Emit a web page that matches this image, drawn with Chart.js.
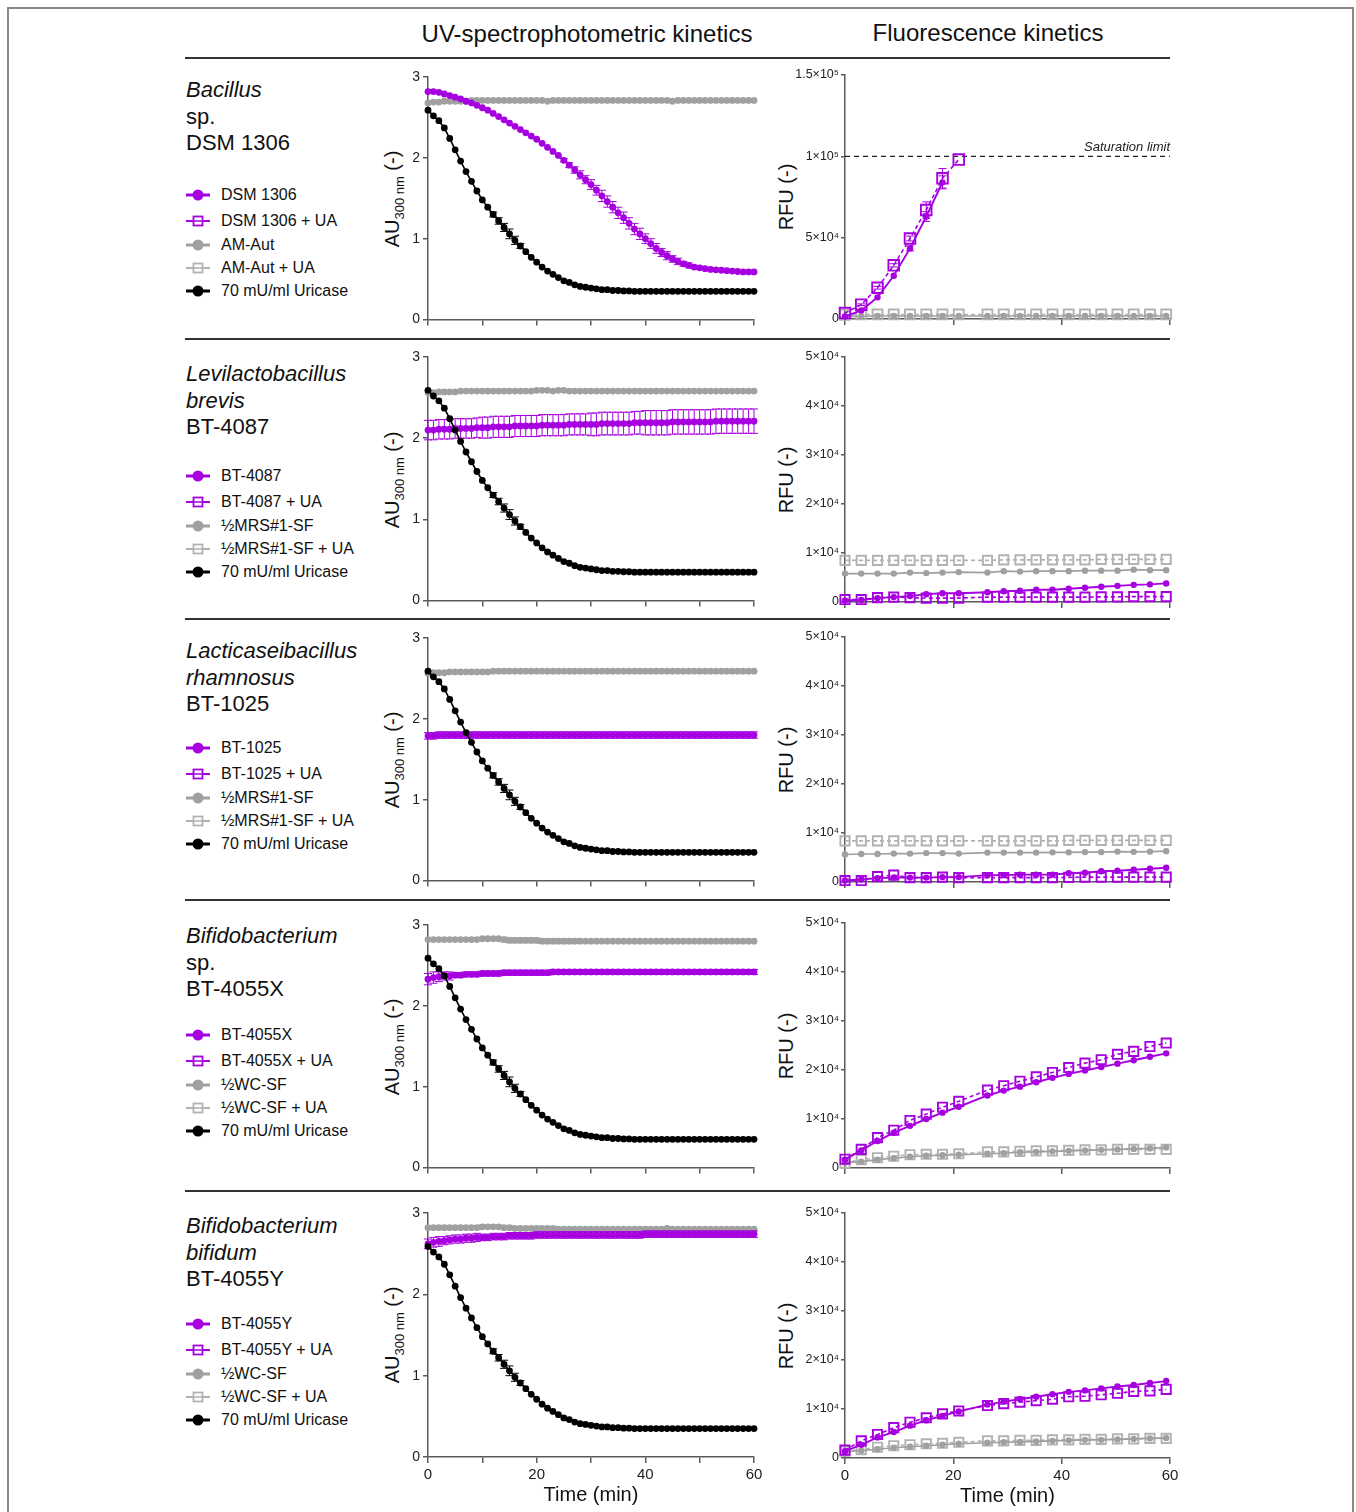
<!DOCTYPE html>
<html lang="en">
  <head>
    <meta charset="UTF-8" />
    <title>UV and fluorescence kinetics</title>
    <script src="https://cdn.jsdelivr.net/npm/chart.js@4.4.1/dist/chart.umd.min.js"></script>
    <style>
      body { margin: 0; background: #fff; font-family: "Liberation Sans", Arial, sans-serif; color: #111; }
      #fig { position: relative; width: 1356px; height: 1512px; overflow: hidden; }
      .abs { position: absolute; white-space: nowrap; }
      .frame { left: 7px; top: 7px; width: 1347px; height: 1530px; border: 2px solid #8a8a8a; box-sizing: border-box; }
      .rule { left: 185px; width: 985px; height: 2px; background: #333; }
      .head { font-size: 24px; line-height: 30px; text-align: center; width: 400px; }
      .species { left: 186px; font-size: 22px; line-height: 26px; }
      .leg { left: 185px; height: 20px; display: flex; align-items: center; font-size: 16px; }
      .leg svg { margin-right: 10px; }
      .ytitle { width: 200px; height: 26px; line-height: 26px; font-size: 20px; text-align: center; transform: rotate(-90deg); }
      .ytitle .sub { font-size: 13px; position: relative; top: 5px; }
    </style>
  </head>
  <body>
    <div id="fig">
      <div class="abs frame"></div>
      <div class="abs head" style="left: 387px; top: 19px">UV-spectrophotometric kinetics</div>
      <div class="abs head" style="left: 788px; top: 18px">Fluorescence kinetics</div>
    </div>

    <script>
      // ---- colours
      const MAG = "#a600e0";
      const GRAY = "#a0a0a0";
      const GRAY_LT = "#b2b2b2";
      const BLACK = "#000000";
      const AXIS = "#5a5a5a";

      // ---- time axes (min)
      const uvTime = [0,1,2,3,4,5,6,7,8,9,10,11,12,13,14,15,16,17,18,19,20,21,22,23,24,25,26,27,28,29,30,
        31,32,33,34,35,36,37,38,39,40,41,42,43,44,45,46,47,48,49,50,51,52,53,54,55,56,57,58,59,60];
      const flTime = [0,3,6,9,12,15,18,21,26.3,29.3,32.3,35.3,38.3,41.3,44.3,47.3,50.3,53.3,56.3,59.3];

      // ---- tick labels
      const uvTickLabels = ["0", "1", "2", "3"];
      const flTickLabelsTop = ["0", "5×10⁴", "1×10⁵", "1.5×10⁵"];
      const flTickLabels = ["0", "1×10⁴", "2×10⁴", "3×10⁴", "4×10⁴", "5×10⁴"];
      const timeTickLabels = ["0", "20", "40", "60"];

      // ---- row text
      const speciesNames = [
        [["Bacillus", true], ["sp.", false], ["DSM 1306", false]],
        [["Levilactobacillus", true], ["brevis", true], ["BT-4087", false]],
        [["Lacticaseibacillus", true], ["rhamnosus", true], ["BT-1025", false]],
        [["Bifidobacterium", true], ["sp.", false], ["BT-4055X", false]],
        [["Bifidobacterium", true], ["bifidum", true], ["BT-4055Y", false]]
      ];
      const legendLabels = [
        ["DSM 1306", "DSM 1306 + UA", "AM-Aut", "AM-Aut + UA", "70 mU/ml Uricase"],
        ["BT-4087", "BT-4087 + UA", "½MRS#1-SF", "½MRS#1-SF + UA", "70 mU/ml Uricase"],
        ["BT-1025", "BT-1025 + UA", "½MRS#1-SF", "½MRS#1-SF + UA", "70 mU/ml Uricase"],
        ["BT-4055X", "BT-4055X + UA", "½WC-SF", "½WC-SF + UA", "70 mU/ml Uricase"],
        ["BT-4055Y", "BT-4055Y + UA", "½WC-SF", "½WC-SF + UA", "70 mU/ml Uricase"]
      ];

      // ---- UV absorbance (AU 300 nm), one value per minute
      const uricaseAU = [2.59,2.52,2.46,2.37,2.24,2.10,1.96,1.83,1.71,1.59,
        1.48,1.39,1.30,1.22,1.14,1.06,0.98,0.91,0.84,0.77,
        0.71,0.65,0.60,0.56,0.52,0.48,0.46,0.43,0.41,0.40,
        0.39,0.38,0.37,0.37,0.36,0.36,0.355,0.355,0.35,0.35,
        0.35,0.35,0.35,0.35,0.35,0.35,0.35,0.35,0.35,0.35,
        0.35,0.35,0.35,0.35,0.35,0.35,0.35,0.35,0.35,0.35,0.35];
      const uricaseErr = [0,0,0,0,0,0,0,0,0,0,0,0,0.03,0.04,0.05,0.06,0.05,0.03,0,0,
        0,0,0,0,0,0,0,0,0,0,0,0,0,0,0,0,0,0,0,0,0,0,0,0,0,0,0,0,0,0,0,0,0,0,0,0,0,0,0,0,0];

      const m1AU = [2.82,2.82,2.81,2.79,2.77,2.75,2.73,2.70,2.68,2.65,
        2.62,2.59,2.55,2.51,2.47,2.43,2.39,2.35,2.31,2.27,
        2.23,2.18,2.13,2.08,2.03,1.97,1.91,1.85,1.79,1.73,
        1.67,1.60,1.53,1.46,1.39,1.32,1.26,1.19,1.12,1.06,
        1.00,0.94,0.88,0.83,0.79,0.75,0.72,0.69,0.67,0.65,
        0.64,0.63,0.62,0.615,0.61,0.605,0.60,0.595,0.59,0.59,0.59];
      const m1Err = [0,0,0,0,0,0,0,0,0,0,0,0,0,0,0,0,0,0,0,0,0,0,0,0,0,
        0.02,0.03,0.04,0.05,0.05,0.06,0.06,0.07,0.07,0.07,0.07,0.07,0.07,0.07,0.07,
        0.06,0.06,0.06,0.05,0.05,0.04,0.04,0.03,0.03,0.02,0.02,
        0,0,0,0,0,0,0,0,0,0];
      const g1AU = [2.68,2.69,2.69,2.70,2.70,2.70,2.70,2.70,2.71,2.71,
        2.71,2.71,2.71,2.71,2.71,2.71,2.71,2.71,2.71,2.71,
        2.71,2.71,2.70,2.71,2.71,2.71,2.71,2.71,2.71,2.71,
        2.71,2.71,2.71,2.71,2.71,2.71,2.71,2.71,2.71,2.71,
        2.71,2.71,2.71,2.71,2.71,2.70,2.71,2.71,2.71,2.71,
        2.71,2.71,2.71,2.71,2.71,2.71,2.71,2.71,2.71,2.71,2.71];

      const m2AU = [2.10,2.10,2.11,2.11,2.11,2.12,2.12,2.12,2.12,2.13,
        2.13,2.13,2.14,2.14,2.14,2.14,2.15,2.15,2.15,2.15,
        2.15,2.16,2.16,2.16,2.16,2.16,2.17,2.17,2.17,2.17,
        2.17,2.17,2.18,2.18,2.18,2.18,2.18,2.18,2.19,2.19,
        2.19,2.19,2.19,2.19,2.19,2.20,2.20,2.20,2.20,2.20,
        2.20,2.20,2.20,2.21,2.21,2.21,2.21,2.21,2.21,2.21,2.21];
      const m2Err = [0.12,0.12,0.12,0.12,0.12,0.12,0.12,0.12,0.12,0.12,
        0.13,0.13,0.13,0.13,0.13,0.13,0.13,0.13,0.13,0.13,
        0.13,0.13,0.13,0.13,0.13,0.13,0.13,0.13,0.13,0.13,
        0.14,0.14,0.14,0.14,0.14,0.14,0.14,0.14,0.14,0.14,
        0.15,0.15,0.15,0.15,0.15,0.15,0.15,0.15,0.15,0.15,
        0.15,0.15,0.15,0.15,0.15,0.15,0.15,0.15,0.15,0.15,0.15];
      const g2AU = [2.56,2.56,2.57,2.57,2.57,2.57,2.58,2.58,2.58,2.58,
        2.58,2.58,2.58,2.58,2.58,2.58,2.58,2.58,2.58,2.58,
        2.59,2.59,2.59,2.58,2.59,2.59,2.58,2.58,2.58,2.58,
        2.58,2.58,2.58,2.58,2.58,2.58,2.58,2.58,2.58,2.58,
        2.58,2.58,2.58,2.58,2.58,2.58,2.58,2.58,2.58,2.58,
        2.58,2.58,2.58,2.58,2.58,2.58,2.58,2.58,2.58,2.58,2.58];

      const m3AU = [1.79,1.79,1.80,1.80,1.80,1.80,1.80,1.80,1.80,1.80,
        1.80,1.80,1.80,1.80,1.80,1.80,1.80,1.80,1.80,1.80,
        1.80,1.80,1.80,1.80,1.80,1.80,1.80,1.80,1.80,1.80,
        1.80,1.80,1.80,1.80,1.80,1.80,1.80,1.80,1.80,1.80,
        1.80,1.80,1.80,1.80,1.80,1.80,1.80,1.80,1.80,1.80,
        1.80,1.80,1.80,1.80,1.80,1.80,1.80,1.80,1.80,1.80,1.80];
      const m3Err = [0.04,0.04,0.04,0.04,0.04,0.04,0.04,0.04,0.04,0.04,
        0.04,0.04,0.04,0.04,0.04,0.04,0.04,0.04,0.04,0.04,
        0.04,0.04,0.04,0.04,0.04,0.04,0.04,0.04,0.04,0.04,
        0.04,0.04,0.04,0.04,0.04,0.04,0.04,0.04,0.04,0.04,
        0.04,0.04,0.04,0.04,0.04,0.04,0.04,0.04,0.04,0.04,
        0.04,0.04,0.04,0.04,0.04,0.04,0.04,0.04,0.04,0.04,0.04];
      const g3AU = [2.56,2.57,2.57,2.57,2.58,2.58,2.58,2.58,2.58,2.58,
        2.58,2.58,2.59,2.59,2.59,2.59,2.59,2.59,2.59,2.59,
        2.59,2.59,2.59,2.59,2.59,2.59,2.59,2.59,2.59,2.59,
        2.59,2.59,2.59,2.59,2.59,2.59,2.59,2.59,2.59,2.59,
        2.59,2.59,2.59,2.59,2.59,2.59,2.59,2.59,2.59,2.59,
        2.59,2.59,2.59,2.59,2.59,2.59,2.59,2.59,2.59,2.59,2.59];

      const m4AU = [2.33,2.35,2.36,2.37,2.37,2.38,2.38,2.39,2.39,2.39,
        2.40,2.40,2.40,2.40,2.41,2.41,2.41,2.41,2.41,2.41,
        2.41,2.41,2.41,2.42,2.42,2.42,2.42,2.42,2.42,2.42,
        2.42,2.42,2.42,2.42,2.42,2.42,2.42,2.42,2.42,2.42,
        2.42,2.42,2.42,2.42,2.42,2.42,2.42,2.42,2.42,2.42,
        2.42,2.42,2.42,2.42,2.42,2.42,2.42,2.42,2.42,2.42,2.42];
      const m4Err = [0.07,0.07,0.06,0.05,0.05,0.03,0.03,0.03,0.03,0.03,
        0.03,0.03,0.03,0.03,0.03,0.03,0.03,0.03,0.03,0.03,
        0.03,0.03,0.03,0.03,0.03,0.03,0.03,0.03,0.03,0.03,
        0.03,0.03,0.03,0.03,0.03,0.03,0.03,0.03,0.03,0.03,
        0.03,0.03,0.03,0.03,0.03,0.03,0.03,0.03,0.03,0.03,
        0.03,0.03,0.03,0.03,0.03,0.03,0.03,0.03,0.03,0.03,0.03];
      const g4AU = [2.82,2.82,2.82,2.82,2.82,2.82,2.82,2.82,2.82,2.82,
        2.83,2.83,2.83,2.83,2.82,2.81,2.81,2.81,2.81,2.81,
        2.81,2.80,2.80,2.80,2.80,2.80,2.80,2.80,2.80,2.80,
        2.80,2.80,2.80,2.80,2.80,2.80,2.80,2.80,2.80,2.80,
        2.80,2.80,2.80,2.80,2.80,2.80,2.80,2.80,2.80,2.80,
        2.80,2.80,2.80,2.80,2.80,2.80,2.80,2.80,2.80,2.80,2.80];
      const g4Err = [0,0,0,0,0,0,0,0,0,0,0,0,0,0,0.03,0.03,0.03,0.03,0.03,0.03,
        0.03,0.03,0.03,0.03,0.03,0.03,0.03,0.03,0,0,0,0,0,0,0,0,0,0,0,0,
        0,0,0,0,0,0,0,0,0,0,0,0,0,0,0,0,0,0,0,0,0];

      const m5AU = [2.62,2.64,2.65,2.66,2.67,2.68,2.68,2.69,2.69,2.70,
        2.70,2.70,2.71,2.71,2.71,2.72,2.72,2.72,2.72,2.72,
        2.73,2.73,2.73,2.73,2.73,2.73,2.73,2.73,2.73,2.73,
        2.73,2.73,2.73,2.73,2.73,2.73,2.73,2.73,2.73,2.73,
        2.74,2.74,2.74,2.74,2.74,2.74,2.74,2.74,2.74,2.74,
        2.74,2.74,2.74,2.74,2.74,2.74,2.74,2.74,2.74,2.74,2.74];
      const m5Err = [0.06,0.06,0.06,0.05,0.05,0.05,0.05,0.05,0.05,0.05,
        0.04,0.04,0.04,0.04,0.04,0.04,0.04,0.04,0.04,0.04,
        0.04,0.04,0.04,0.04,0.04,0.04,0.04,0.04,0.04,0.04,
        0.04,0.04,0.04,0.04,0.04,0.04,0.04,0.04,0.04,0.04,
        0.04,0.04,0.04,0.04,0.04,0.04,0.04,0.04,0.04,0.04,
        0.04,0.04,0.04,0.04,0.04,0.04,0.04,0.04,0.04,0.04,0.04];
      const g5AU = [2.82,2.82,2.82,2.82,2.82,2.82,2.82,2.82,2.82,2.82,
        2.83,2.83,2.83,2.83,2.82,2.82,2.81,2.81,2.81,2.81,
        2.81,2.81,2.81,2.81,2.80,2.80,2.80,2.80,2.80,2.80,
        2.80,2.80,2.80,2.80,2.80,2.80,2.80,2.80,2.80,2.80,
        2.80,2.80,2.80,2.80,2.81,2.80,2.80,2.80,2.80,2.80,
        2.80,2.80,2.80,2.80,2.80,2.80,2.80,2.80,2.80,2.80,2.80];
      const g5Err = [0,0,0,0,0,0.02,0.02,0.02,0.02,0.02,0.02,0.02,0.02,0.02,0.02,0.02,0.02,0.02,0.02,0.02,
        0.02,0.02,0.02,0.02,0.02,0.02,0,0,0,0,0,0,0,0,0,0,0,0,0,0,
        0,0,0,0,0,0,0,0,0,0,0,0,0,0,0,0,0,0,0,0,0];

      // ---- fluorescence (RFU)
      const f1Mag = [1500,5300,13300,26600,43400,63000,84000];
      const f1MagErr = [0,0,0,0,1500,3000,4000];
      const f1MagUA = [3700,8800,19200,33000,49500,67000,86500,98000];
      const f1MagUAErr = [0,500,800,1000,1500,5000,6000,0];
      const f1Gray = [1600,1700,1800,1800,1800,1800,1800,1800,1800,1800,1800,1800,1800,1800,1800,1800,1800,1800,1800,1800];
      const f1GrayUA = [2600,2800,2800,2800,2800,2800,2800,2800,2800,2800,2800,2800,2800,2800,2800,2800,2800,2800,2800,2800];

      const f2Mag = [300,400,800,1000,1200,1600,1800,1800,2000,2200,2300,2500,2500,2700,2900,3100,3300,3500,3600,3800];
      const f2MagUA = [500,500,900,1000,900,800,800,800,1000,1000,1000,1000,1000,1000,1000,1050,1050,1100,1100,1100];
      const f2Gray = [5800,5800,5800,5800,6000,5900,6000,6100,6000,6300,6200,6300,6300,6300,6400,6400,6400,6600,6500,6500];
      const f2GrayUA = [8500,8500,8500,8500,8500,8500,8500,8500,8500,8600,8600,8600,8600,8600,8600,8700,8700,8700,8700,8700];

      const f3Mag = [300,500,800,900,900,900,1000,1000,1400,1400,1500,1500,1500,1800,1900,2200,2300,2500,2700,2900];
      const f3MagUA = [300,300,1100,1400,900,900,1000,900,900,900,900,900,900,950,1000,1000,1000,1000,1000,1000];
      const f3Gray = [5600,5700,5700,5800,5800,5900,5900,5800,6000,6000,6000,6000,6050,6050,6100,6100,6200,6150,6200,6300];
      const f3GrayUA = [8400,8400,8400,8400,8400,8400,8400,8400,8400,8400,8400,8400,8400,8500,8500,8500,8500,8500,8500,8500];

      const f4Mag = [1700,3600,5500,7200,8600,10000,11300,12500,14800,15800,16600,17500,18400,19200,19900,20600,21300,22000,22700,23400];
      const f4MagUA = [1800,3800,6200,7700,9700,11000,12400,13600,15900,16800,17700,18600,19500,20500,21400,22100,23200,23800,24800,25500];
      const f4Gray = [1100,1300,1700,2000,2300,2500,2600,2700,2900,3000,3200,3300,3400,3500,3600,3700,3800,3900,4000,4200];
      const f4GrayUA = [1000,1700,2100,2400,2700,2800,2800,2900,3300,3300,3400,3500,3500,3600,3700,3700,3800,3800,3800,3800];

      const f5Mag = [1400,2700,4200,5300,6600,7700,8600,9500,10900,11500,12000,12500,13000,13500,13800,14200,14600,14900,15300,15700];
      const f5MagUA = [1600,3500,4800,6200,7300,8200,9000,9600,10700,11100,11400,11700,12000,12500,12600,12900,13200,13600,13700,14000];
      const f5Gray = [1300,1500,1800,2100,2300,2500,2700,2900,3100,3200,3300,3400,3500,3600,3700,3700,3800,3900,4000,4100];
      const f5GrayUA = [1400,1700,2200,2500,2700,2900,3000,3200,3500,3500,3600,3600,3700,3700,3800,3800,3900,3900,4000,4000];

      const saturationLimit = 100000;

      // ---- layout (pixels)
      const ruleY = [58, 339, 619, 900, 1191];
      const nameY = [90, 374, 651, 936, 1226];
      const legendY = [195, 476, 748, 1035, 1324];
      const legendStep = [0, 26, 50, 73, 96];
      const uvAxis = [[77, 321], [357, 602], [638, 882], [925, 1169], [1213, 1457]];
      const flAxis = [[75, 319], [357, 602], [637, 882], [923, 1168], [1213, 1458]];

      Chart.defaults.font.family = "'Liberation Sans', Arial, sans-serif";
      Chart.defaults.color = "#222";

      const fig = document.getElementById("fig");

      function addDiv(cls, css, html) {
        const d = document.createElement("div");
        d.className = "abs " + cls;
        d.style.cssText = css;
        d.innerHTML = html;
        fig.appendChild(d);
        return d;
      }

      // legend symbols
      const symbols = [
        `<svg width="26" height="14"><line x1="1" y1="7" x2="25" y2="7" stroke="${MAG}" stroke-width="3"/><circle cx="13" cy="7" r="5.5" fill="${MAG}"/></svg>`,
        `<svg width="26" height="14"><line x1="1" y1="7" x2="25" y2="7" stroke="${MAG}" stroke-width="2"/><rect x="8.5" y="2.5" width="9" height="9" fill="#fff" stroke="${MAG}" stroke-width="1.8"/><line x1="9" y1="7" x2="17" y2="7" stroke="${MAG}" stroke-width="1.5"/></svg>`,
        `<svg width="26" height="14"><line x1="1" y1="7" x2="25" y2="7" stroke="${GRAY}" stroke-width="3"/><circle cx="13" cy="7" r="5.5" fill="${GRAY}"/></svg>`,
        `<svg width="26" height="14"><line x1="1" y1="7" x2="25" y2="7" stroke="${GRAY_LT}" stroke-width="2"/><rect x="8.5" y="2.5" width="9" height="9" fill="#fff" stroke="${GRAY_LT}" stroke-width="1.8"/><line x1="9" y1="7" x2="17" y2="7" stroke="${GRAY_LT}" stroke-width="1.5"/></svg>`,
        `<svg width="26" height="14"><line x1="1" y1="7" x2="25" y2="7" stroke="${BLACK}" stroke-width="3"/><circle cx="13" cy="7" r="5.5" fill="${BLACK}"/></svg>`
      ];

      ruleY.forEach((y) => addDiv("rule", `top:${y - 1}px;`, ""));

      speciesNames.forEach((lines, r) => {
        lines.forEach(([txt, it], k) => {
          addDiv("species", `top:${nameY[r] - 13 + k * 26.5}px;font-style:${it ? "italic" : "normal"};`, txt);
        });
        legendLabels[r].forEach((lab, k) => {
          addDiv("leg", `top:${legendY[r] - 10 + legendStep[k]}px;`, symbols[k] + "<span>" + lab + "</span>");
        });
        const uvMid = (uvAxis[r][0] + uvAxis[r][1]) / 2;
        const flMid = (flAxis[r][0] + flAxis[r][1]) / 2;
        addDiv("ytitle", `left:${392 - 100}px;top:${uvMid - 13}px;`, 'AU<span class="sub">300 nm</span> (-)');
        addDiv("ytitle", `left:${786 - 100}px;top:${flMid - 13}px;`, "RFU (-)");
      });

      // error bars drawn through the y scale
      const errorBars = {
        id: "errorBars",
        beforeDatasetDraw(chart, args) {
          const ds = chart.data.datasets[args.index];
          if (!ds.errors) return;
          const ys = chart.scales.y;
          const ctx = chart.ctx;
          const w = ds.capWidth || 4;
          ctx.save();
          ctx.strokeStyle = ds.borderColor;
          ctx.lineWidth = 1;
          args.meta.data.forEach((pt, i) => {
            const e = ds.errors[i];
            if (!e) return;
            const v = ds.data[i].y;
            const y1 = ys.getPixelForValue(v + e);
            const y2 = ys.getPixelForValue(v - e);
            ctx.beginPath();
            ctx.moveTo(pt.x, y1); ctx.lineTo(pt.x, y2);
            ctx.moveTo(pt.x - w, y1); ctx.lineTo(pt.x + w, y1);
            ctx.moveTo(pt.x - w, y2); ctx.lineTo(pt.x + w, y2);
            ctx.stroke();
          });
          ctx.restore();
        }
      };

      // "Saturation limit" label above the dashed line
      const satLabel = {
        id: "satLabel",
        afterDraw(chart, args, opts) {
          if (!opts || !opts.text) return;
          const ctx = chart.ctx;
          const y = chart.scales.y.getPixelForValue(opts.value);
          ctx.save();
          ctx.font = "italic 13px 'Liberation Sans', Arial, sans-serif";
          ctx.fillStyle = "#222";
          ctx.textAlign = "right";
          ctx.textBaseline = "alphabetic";
          ctx.fillText(opts.text, chart.chartArea.right, y - 5);
          ctx.restore();
        }
      };

      function pts(xs, ys) {
        return ys.map((v, i) => ({ x: xs[i], y: v }));
      }
      function circles(xs, ys, color, r, errs, lw) {
        return {
          data: pts(xs, ys), borderColor: color, backgroundColor: color,
          pointBackgroundColor: color, pointBorderColor: color, pointBorderWidth: 0,
          pointRadius: r, pointHoverRadius: r, pointStyle: "circle",
          borderWidth: lw || 1.6, tension: 0, clip: false, errors: errs, capWidth: 4
        };
      }
      function squares(xs, ys, color, r, errs) {
        return {
          data: pts(xs, ys), borderColor: color, backgroundColor: "rgba(255,255,255,0)",
          pointBackgroundColor: "rgba(255,255,255,0)", pointBorderColor: color, pointBorderWidth: 1.9,
          pointRadius: r, pointHoverRadius: r, pointStyle: "rect",
          borderWidth: 1.6, borderDash: [4, 3], tension: 0, clip: false, errors: errs, capWidth: 4
        };
      }

      function addChart(kind, r, datasets, yMax, yStep, yLabels, satOpts) {
        const isUV = kind === "uv";
        const [t, b] = isUV ? uvAxis[r] : flAxis[r];
        const last = r === 4;
        const xh = last ? 50 : 10;
        const left = isUV ? 380 : 790;
        const w = isUV ? 390 : 396;
        const yW = isUV ? 48 : 55;
        const cv = document.createElement("canvas");
        cv.width = w;
        cv.height = b - t + 14 + xh;
        cv.style.cssText = `position:absolute;left:${left}px;top:${t - 14}px;`;
        fig.appendChild(cv);
        return new Chart(cv, {
          type: "line",
          data: { datasets },
          options: {
            responsive: false,
            animation: false,
            layout: { padding: { left: 0, right: 16, top: 14, bottom: 0 } },
            plugins: { legend: { display: false }, tooltip: { enabled: false }, satLabel: satOpts || false },
            scales: {
              x: {
                type: "linear", min: 0, max: 60,
                afterFit: (s) => { s.height = xh; },
                ticks: {
                  display: last, stepSize: isUV ? 10 : 20, autoSkip: false, maxRotation: 0,
                  padding: 3, font: { size: 15 }, color: "#222",
                  callback: (v) => (timeTickLabels.includes(String(v)) ? String(v) : "")
                },
                grid: { drawOnChartArea: false, tickLength: 6, color: AXIS, lineWidth: 1.5 },
                border: { color: AXIS, width: 1.5 },
                title: { display: last, text: "Time (min)", font: { size: 20 }, color: "#111", padding: 0 }
              },
              y: {
                min: 0, max: yMax,
                afterFit: (s) => { s.width = yW; },
                ticks: {
                  stepSize: yStep, autoSkip: false, padding: isUV ? 3 : 2,
                  font: { size: isUV ? 14 : 12.5 }, color: "#222",
                  callback: (v, i) => yLabels[i]
                },
                grid: { drawOnChartArea: false, tickLength: isUV ? 5 : 4, color: AXIS, lineWidth: 1.5 },
                border: { color: AXIS, width: 1.5 }
              }
            }
          },
          plugins: [errorBars, satLabel]
        });
      }

      // ---- UV panels
      const uvMag = [m1AU, m2AU, m3AU, m4AU, m5AU];
      const uvMagErr = [m1Err, m2Err, m3Err, m4Err, m5Err];
      const uvGray = [g1AU, g2AU, g3AU, g4AU, g5AU];
      const uvGrayErr = [null, null, null, g4Err, g5Err];
      for (let r = 0; r < 5; r++) {
        addChart("uv", r, [
          circles(uvTime, uricaseAU, BLACK, 3.4, uricaseErr),
          circles(uvTime, uvMag[r], MAG, 3.4, uvMagErr[r]),
          circles(uvTime, uvGray[r], GRAY, 3.4, uvGrayErr[r])
        ], 3, 1, uvTickLabels);
      }

      // ---- fluorescence panels
      const satLine = {
        data: [{ x: 0, y: saturationLimit }, { x: 60, y: saturationLimit }],
        borderColor: "#222", borderWidth: 1.4, borderDash: [5, 4], pointRadius: 0, clip: false
      };
      addChart("fl", 0, [
        circles(flTime, f1Mag, MAG, 3.2, f1MagErr, 1.9),
        squares(flTime, f1MagUA, MAG, 7.5, f1MagUAErr),
        circles(flTime, f1Gray, GRAY, 3.2),
        squares(flTime, f1GrayUA, GRAY_LT, 7),
        satLine
      ], 150000, 50000, flTickLabelsTop, { text: "Saturation limit", value: saturationLimit });

      const flSets = [
        null,
        [f2Mag, f2MagUA, f2Gray, f2GrayUA],
        [f3Mag, f3MagUA, f3Gray, f3GrayUA],
        [f4Mag, f4MagUA, f4Gray, f4GrayUA],
        [f5Mag, f5MagUA, f5Gray, f5GrayUA]
      ];
      for (let r = 1; r < 5; r++) {
        const [mc, ms, gc, gs] = flSets[r];
        addChart("fl", r, [
          circles(flTime, mc, MAG, 3.2, null, 1.9),
          squares(flTime, ms, MAG, 6.5),
          circles(flTime, gc, GRAY, 3.2),
          squares(flTime, gs, GRAY_LT, 6.5)
        ], 50000, 10000, flTickLabels);
      }
    </script>
  </body>
</html>
